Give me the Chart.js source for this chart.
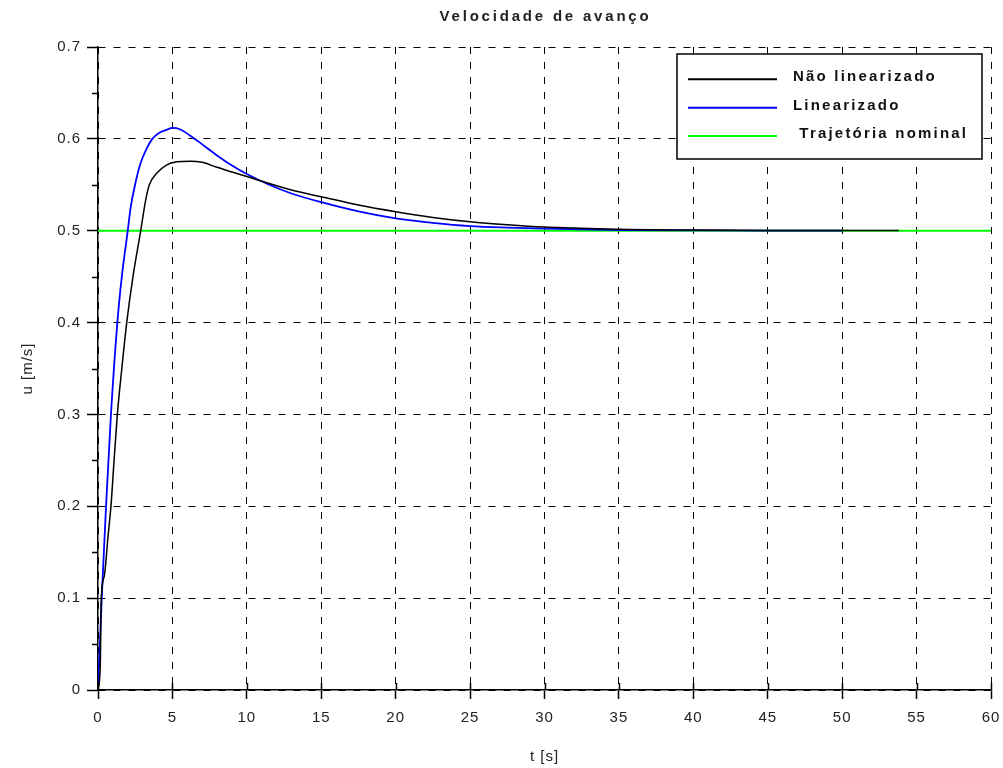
<!DOCTYPE html>
<html lang="pt">
<head>
<meta charset="utf-8">
<title>Velocidade de avanço</title>
<script src="https://cdn.jsdelivr.net/npm/chart.js@4.4.1/dist/chart.umd.min.js"></script>
<style>
  html, body { margin: 0; padding: 0; background: #fff; }
  #wrap { width: 1003px; height: 768px; }
</style>
</head>
<body>
<div id="wrap"><canvas id="grafico" width="1003" height="768"></canvas></div>
<script>
// resposta do modelo não linearizado: tempo [s] e velocidade u [m/s]
const tNaoLin = [0, 0.15, 0.22, 0.42, 0.69, 0.87, 1.08, 1.3, 1.6, 1.93, 2.35, 2.87, 3.2, 3.45, 3.94, 4.6, 5.3, 6.2, 7, 8, 9, 10, 13, 15, 17.5, 20, 22.5, 25, 27.5, 30, 32, 35, 40, 45, 50, 53.8];
const uNaoLin = [0, 0.025, 0.1, 0.124, 0.17, 0.2, 0.25, 0.3, 0.35, 0.4, 0.45, 0.5, 0.533, 0.55, 0.5625, 0.5715, 0.575, 0.5757, 0.5745, 0.569, 0.564, 0.559, 0.5443, 0.537, 0.528, 0.5207, 0.5145, 0.5098, 0.5065, 0.504, 0.503, 0.5015, 0.5007, 0.5003, 0.5002, 0.5001];

// resposta do modelo linearizado
const tLin = [0, 0.25, 0.54, 0.87, 1.3, 1.6, 2.0, 2.2, 2.49, 2.82, 3.2, 3.65, 4.1, 4.6, 5, 5.5, 6.2, 7, 8, 9, 10, 11.5, 13, 15, 17.5, 20, 22.5, 25, 27.5, 30, 35, 40, 45, 50];
const uLin = [0, 0.1, 0.2, 0.3, 0.4, 0.45, 0.5, 0.526, 0.55, 0.5715, 0.587, 0.6, 0.6065, 0.6098, 0.612, 0.6105, 0.6035, 0.594, 0.582, 0.571, 0.5617, 0.55, 0.5405, 0.531, 0.521, 0.5134, 0.5085, 0.505, 0.5033, 0.5022, 0.5008, 0.5003, 0.5001, 0.5001];

// trajetória nominal
const tNominal = [0, 60];
const uNominal = [0.5, 0.5];

const xTicks = [0, 5, 10, 15, 20, 25, 30, 35, 40, 45, 50, 55, 60];
const yTicks = [0, 0.1, 0.2, 0.3, 0.4, 0.5, 0.6, 0.7];
const yMinor = [0.05, 0.15, 0.25, 0.35, 0.45, 0.55, 0.65];

const titulo = 'Velocidade de avanço';
const nomes = ['Não linearizado', 'Linearizado', ' Trajetória nominal'];
const cores = ['#000000', '#0000ff', '#00ff00'];

const pontos = (ts, us) => ts.map((t, i) => ({ x: t, y: us[i] }));
const fonte = '"Liberation Sans", Arial, sans-serif';

// espaçamento entre letras para todos os textos do gráfico
const espacamento = {
    id: 'espacamento',
    beforeDraw(chart) {
        chart.ctx.letterSpacing = '1px';
    }
};

// marcas dos eixos: parte interna das marcas de x e marcas menores de y
const marcas = {
    id: 'marcas',
    afterDatasetsDraw(chart) {
        const { ctx, chartArea, scales } = chart;
        ctx.save();
        ctx.strokeStyle = '#000';
        ctx.lineWidth = 1.5;
        ctx.beginPath();
        xTicks.forEach(v => {
            const px = Math.round(scales.x.getPixelForValue(v)) + 0.5;
            ctx.moveTo(px, chartArea.bottom - 7);
            ctx.lineTo(px, chartArea.bottom);
        });
        yMinor.forEach(v => {
            const py = Math.round(scales.y.getPixelForValue(v)) + 0.5;
            ctx.moveTo(chartArea.left - 6, py);
            ctx.lineTo(chartArea.left, py);
        });
        ctx.stroke();
        ctx.restore();
    }
};

// título e legenda
const legenda = {
    id: 'legenda',
    afterDraw(chart) {
        const { ctx, chartArea } = chart;
        ctx.save();
        ctx.font = 'bold 15px ' + fonte;
        ctx.letterSpacing = '2.8px';
        ctx.fillStyle = '#222';
        ctx.textAlign = 'center';
        ctx.textBaseline = 'middle';
        ctx.fillText(titulo, (chartArea.left + chartArea.right) / 2 + 1, 17);

        const x0 = chartArea.right - 314, y0 = chartArea.top + 7, w = 305, h = 105;
        ctx.fillStyle = '#fff';
        ctx.fillRect(x0, y0, w, h);
        ctx.lineWidth = 1.5;
        ctx.strokeStyle = '#000';
        ctx.strokeRect(x0, y0, w, h);
        ctx.font = 'bold 15px ' + fonte;
        ctx.letterSpacing = '2.2px';
        ctx.textAlign = 'left';
        chart.data.datasets.forEach((ds, i) => {
            const y = y0 + 25.3 + i * 28.4;
            ctx.strokeStyle = ds.borderColor;
            ctx.lineWidth = 2;
            ctx.beginPath();
            ctx.moveTo(x0 + 11, y);
            ctx.lineTo(x0 + 100, y);
            ctx.stroke();
            ctx.fillStyle = '#111';
            ctx.fillText(ds.label, x0 + 116, y - 2);
        });
        ctx.restore();
    }
};

new Chart(document.getElementById('grafico'), {
    type: 'line',
    data: {
        datasets: [
            { label: nomes[0], data: pontos(tNaoLin, uNaoLin), borderColor: cores[0], borderWidth: 1.5 },
            { label: nomes[1], data: pontos(tLin, uLin), borderColor: cores[1], borderWidth: 1.8 },
            { label: nomes[2], data: pontos(tNominal, uNominal), borderColor: cores[2], borderWidth: 2 },
        ],
    },
    options: {
        responsive: false,
        animation: false,
        devicePixelRatio: 1,
        elements: {
            point: { radius: 0 },
            line: { cubicInterpolationMode: 'monotone', fill: false },
        },
        layout: { padding: { top: 47, right: 12, bottom: 0, left: 0 } },
        plugins: {
            legend: { display: false },
            title: { display: false },
            tooltip: { enabled: false },
        },
        scales: {
            x: {
                type: 'linear',
                min: 0,
                max: 60,
                afterBuildTicks: s => { s.ticks = xTicks.map(v => ({ value: v })); },
                afterFit: s => { s.height = 78; s.paddingLeft = 0; s.paddingRight = 0; },
                ticks: { autoSkip: false, maxRotation: 0, padding: 10, color: '#222', font: { family: fonte, size: 15 } },
                grid: { color: '#000', lineWidth: 1, tickLength: 9, tickColor: '#000', tickWidth: 1.5 },
                border: { display: true, color: '#000', width: 1.5, dash: [7, 8] },
                title: { display: true, text: 't [s]', color: '#222', font: { family: fonte, size: 15 }, padding: { top: 0, bottom: 2 } },
            },
            y: {
                type: 'linear',
                min: 0,
                max: 0.7,
                afterBuildTicks: s => { s.ticks = yTicks.map(v => ({ value: v })); },
                afterFit: s => { s.width = 98; s.paddingTop = 0; s.paddingBottom = 0; },
                ticks: { padding: 6, color: '#222', font: { family: fonte, size: 15 } },
                grid: { color: '#000', lineWidth: 1, tickLength: 11, tickColor: '#000', tickWidth: 1.5 },
                border: { display: true, color: '#000', width: 1.5, dash: [7, 8] },
                title: { display: true, text: 'u [m/s]', color: '#222', font: { family: fonte, size: 15 }, padding: { top: 19, bottom: 0 } },
            },
        },
    },
    plugins: [espacamento, marcas, legenda],
});
</script>
</body>
</html>
